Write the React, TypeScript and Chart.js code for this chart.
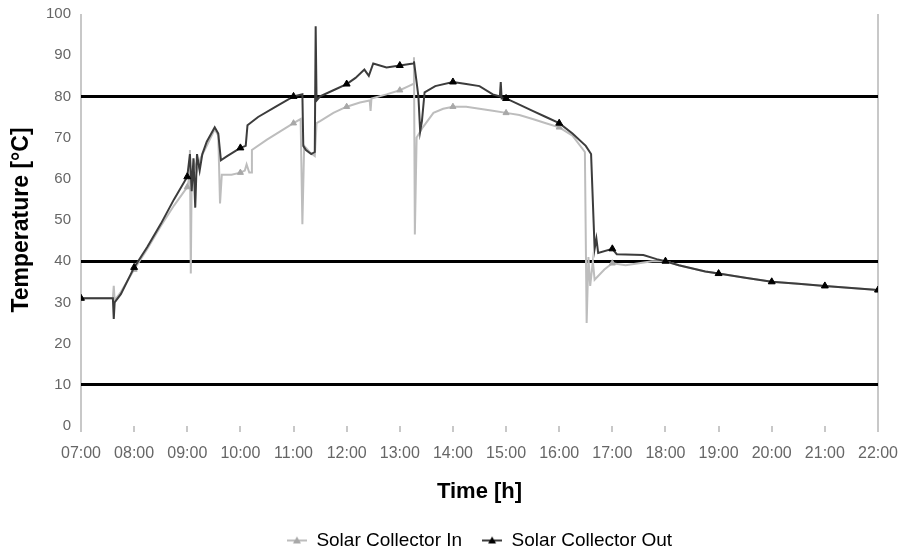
import React, { useEffect, useRef } from 'react';
import { Chart, registerables } from 'chart.js';

Chart.register(...registerables);

// Logged times (hh:mm) and temperatures (°C) for the collector inlet
const inTimes = [
  '07:00', '07:36', '07:37', '07:38', '07:45', '08:00', '08:15', '08:30', '08:45', '09:00',
  '09:02', '09:03', '09:04', '09:05', '09:08', '09:11', '09:15', '09:22', '09:31', '09:35',
  '09:37', '09:39', '09:50', '10:00', '10:05', '10:07', '10:10', '10:12', '10:13', '10:30',
  '10:45', '11:00', '11:08', '11:10', '11:12', '11:18', '11:24', '11:26', '11:30', '11:45',
  '12:00', '12:15', '12:26', '12:27', '12:28', '12:45', '13:00', '13:10', '13:15', '13:16',
  '13:17', '13:19', '13:26', '13:38', '13:49', '14:00', '14:15', '14:30', '14:45', '15:00',
  '15:15', '15:30', '15:45', '16:00', '16:15', '16:29', '16:31', '16:33', '16:35', '16:38',
  '16:40', '16:51', '17:00', '17:15', '17:30', '17:45', '18:00', '18:15', '18:45', '19:00',
  '19:30', '20:00', '20:30', '21:00', '21:30', '22:00',
];
const inTemps = [
  31, 31, 34, 30.5, 32.5, 38, 43, 48.5, 53.5, 58,
  60, 67, 37, 61, 64, 62, 65, 68, 72, 70.5,
  54, 61, 61, 61.5, 62, 63.5, 61.5, 61.5, 67, 69.5,
  71.5, 73.5, 74.5, 49, 68, 66.5, 65.5, 73.5, 74, 76,
  77.5, 78.5, 79, 76.5, 79.5, 80.5, 81.5, 82.5, 83, 89.5,
  46.5, 70, 72.5, 76, 77, 77.5, 77.5, 77, 76.5, 76,
  75.5, 74.5, 73.5, 72.5, 70.5, 66.5, 25, 41, 34, 40,
  35.5, 38, 39.5, 39, 39.5, 40, 40, 39, 37.5, 37,
  36, 35, 34.5, 34, 33.5, 33,
];

// Logged times (hh:mm) and temperatures (°C) for the collector outlet
const outTimes = [
  '07:00', '07:36', '07:37', '07:38', '07:45', '08:00', '08:15', '08:30', '08:45', '09:00',
  '09:03', '09:05', '09:07', '09:09', '09:11', '09:14', '09:17', '09:22', '09:31', '09:35',
  '09:38', '09:45', '10:00', '10:06', '10:08', '10:20', '10:40', '11:00', '11:10', '11:11',
  '11:14', '11:20', '11:24', '11:25', '11:26', '11:30', '11:45', '12:00', '12:10', '12:20',
  '12:25', '12:30', '12:45', '13:00', '13:15', '13:16', '13:21', '13:23', '13:25', '13:28',
  '13:40', '14:00', '14:15', '14:30', '14:45', '14:53', '14:54', '14:55', '15:00', '15:15',
  '15:30', '15:45', '16:00', '16:15', '16:30', '16:36', '16:40', '16:42', '16:44', '17:00',
  '17:05', '17:35', '17:50', '18:00', '18:15', '18:45', '19:00', '19:30', '20:00', '20:30',
  '21:00', '21:30', '22:00',
];
const outTemps = [
  31, 31, 26, 30, 32, 38.5, 43.5, 49, 55, 60.5,
  66, 57, 65, 53, 66, 62, 66, 69, 72.5, 71,
  64.5, 65.5, 67.5, 68, 73, 75, 77.5, 80, 80.5, 68,
  67, 66, 66.5, 97, 79, 80, 81.5, 83, 84.5, 86.5,
  85, 88, 87, 87.5, 88, 88.5, 80, 71.5, 74, 81,
  82.5, 83.5, 83, 82.5, 80.5, 80, 83.5, 79.5, 79.5, 78,
  76.5, 75, 73.5, 71, 68, 66, 43, 45.5, 42, 43,
  41.7, 41.5, 40.5, 40, 39, 37.5, 37, 36, 35, 34.5,
  34, 33.5, 33,
];

const seriesNames = ['Solar Collector In', 'Solar Collector Out'];
const hourMin = 7;
const hourMax = 22;
const tempMin = 0;
const tempMax = 100;
const guideTemps = [10, 40, 80];

const FONT = "'Liberation Sans', Arial, sans-serif";
const IN_COLOR = '#bdbdbd';
const OUT_COLOR = '#3c3c3c';

const toHours = (t: string) => {
  const [h, m] = t.split(':').map(Number);
  return h + m / 60;
};

const toPoints = (times: string[], temps: number[]) =>
  times.map((t, i) => ({ x: toHours(t), y: temps[i] }));

const onTheHour = (ctx: any) => {
  const raw = ctx.raw as { x: number } | undefined;
  return !!raw && Math.abs(raw.x - Math.round(raw.x)) < 1e-6;
};

const hourLabel = (v: number) => `${String(Math.round(v)).padStart(2, '0')}:00`;

// Small line-plus-marker swatch used as the legend symbol
function legendSwatch(lineColor: string, markerColor: string) {
  const c = document.createElement('canvas');
  c.width = 20;
  c.height = 10;
  const g = c.getContext('2d')!;
  g.strokeStyle = lineColor;
  g.lineWidth = 2;
  g.beginPath();
  g.moveTo(0, 5);
  g.lineTo(20, 5);
  g.stroke();
  g.fillStyle = markerColor;
  g.beginPath();
  g.moveTo(10, 1);
  g.lineTo(14, 8);
  g.lineTo(6, 8);
  g.closePath();
  g.fill();
  return c;
}

export default function App() {
  const canvasRef = useRef<HTMLCanvasElement | null>(null);

  useEffect(() => {
    const canvas = canvasRef.current;
    if (!canvas) return;
    const swatches = [legendSwatch(IN_COLOR, '#a8a8a8'), legendSwatch(OUT_COLOR, '#000')];

    const chart = new Chart(canvas, {
      type: 'line',
      data: {
        datasets: [
          {
            label: seriesNames[0],
            data: toPoints(inTimes, inTemps),
            borderColor: IN_COLOR,
            backgroundColor: IN_COLOR,
            borderWidth: 2,
            pointStyle: 'triangle',
            pointRadius: (ctx: any) => (onTheHour(ctx) ? 3.5 : 0),
            pointBackgroundColor: '#a8a8a8',
            pointBorderColor: '#a8a8a8',
            pointBorderWidth: 1,
            tension: 0,
            order: 1,
          },
          {
            label: seriesNames[1],
            data: toPoints(outTimes, outTemps),
            borderColor: OUT_COLOR,
            backgroundColor: OUT_COLOR,
            borderWidth: 2,
            pointStyle: 'triangle',
            pointRadius: (ctx: any) => (onTheHour(ctx) ? 4 : 0),
            pointBackgroundColor: '#000',
            pointBorderColor: '#000',
            pointBorderWidth: 1,
            tension: 0,
            order: 0,
          },
        ],
      },
      options: {
        animation: false,
        responsive: false,
        events: [],
        layout: { padding: { top: 14, right: 24, left: 0, bottom: -7 } },
        plugins: {
          tooltip: { enabled: false },
          legend: {
            position: 'bottom',
            fullSize: false,
            labels: {
              usePointStyle: true,
              pointStyleWidth: 20,
              padding: 20,
              color: '#000',
              font: { family: FONT, size: 19 },
              sort: (a: any, b: any) => a.datasetIndex - b.datasetIndex,
              generateLabels: (ch: any) =>
                ch.data.datasets.map((ds: any, i: number) => ({
                  text: ds.label,
                  datasetIndex: i,
                  pointStyle: swatches[i],
                  fillStyle: ds.borderColor,
                  strokeStyle: ds.borderColor,
                  lineWidth: 0,
                  hidden: false,
                  fontColor: '#000',
                })),
            },
          },
        },
        scales: {
          x: {
            type: 'linear',
            min: hourMin,
            max: hourMax,
            afterFit: (s: any) => {
              s.height = 85;
              s.paddingLeft = 0;
              s.paddingRight = 0;
            },
            border: { display: false },
            grid: {
              drawOnChartArea: true,
              color: (ctx: any) =>
                ctx.tick && (ctx.tick.value === hourMin || ctx.tick.value === hourMax)
                  ? '#c8c8c8'
                  : 'rgba(0,0,0,0)',
              lineWidth: 2,
              tickColor: '#c8c8c8',
              tickWidth: 2,
              tickLength: 6,
            },
            ticks: {
              stepSize: 1,
              autoSkip: false,
              maxRotation: 0,
              padding: 12,
              color: '#666',
              font: { family: FONT, size: 16 },
              callback: (v: any) => hourLabel(Number(v)),
            },
            title: {
              display: true,
              text: 'Time [h]',
              color: '#000',
              font: { family: FONT, size: 22, weight: 'bold' },
              padding: { top: 0, bottom: 6 },
            },
          },
          y: {
            min: tempMin,
            max: tempMax,
            afterFit: (s: any) => {
              s.width = 81;
              s.paddingTop = 0;
              s.paddingBottom = 0;
            },
            border: { display: false },
            grid: {
              drawTicks: false,
              color: (ctx: any) =>
                ctx.tick && guideTemps.includes(ctx.tick.value) ? '#000' : 'rgba(0,0,0,0)',
              lineWidth: 3,
            },
            ticks: {
              stepSize: 10,
              padding: 10,
              color: '#666',
              font: { family: FONT, size: 15 },
            },
            title: {
              display: true,
              text: 'Temperature [°C]',
              color: '#000',
              font: { family: FONT, size: 23, weight: 'bold' },
              padding: { top: 8, bottom: 0 },
            },
          },
        },
      } as any,
    });

    return () => chart.destroy();
  }, []);

  return (
    <div style={{ position: 'absolute', left: 0, top: 0, width: 902, height: 553, background: '#fff' }}>
      <canvas ref={canvasRef} width={902} height={553} />
    </div>
  );
}
